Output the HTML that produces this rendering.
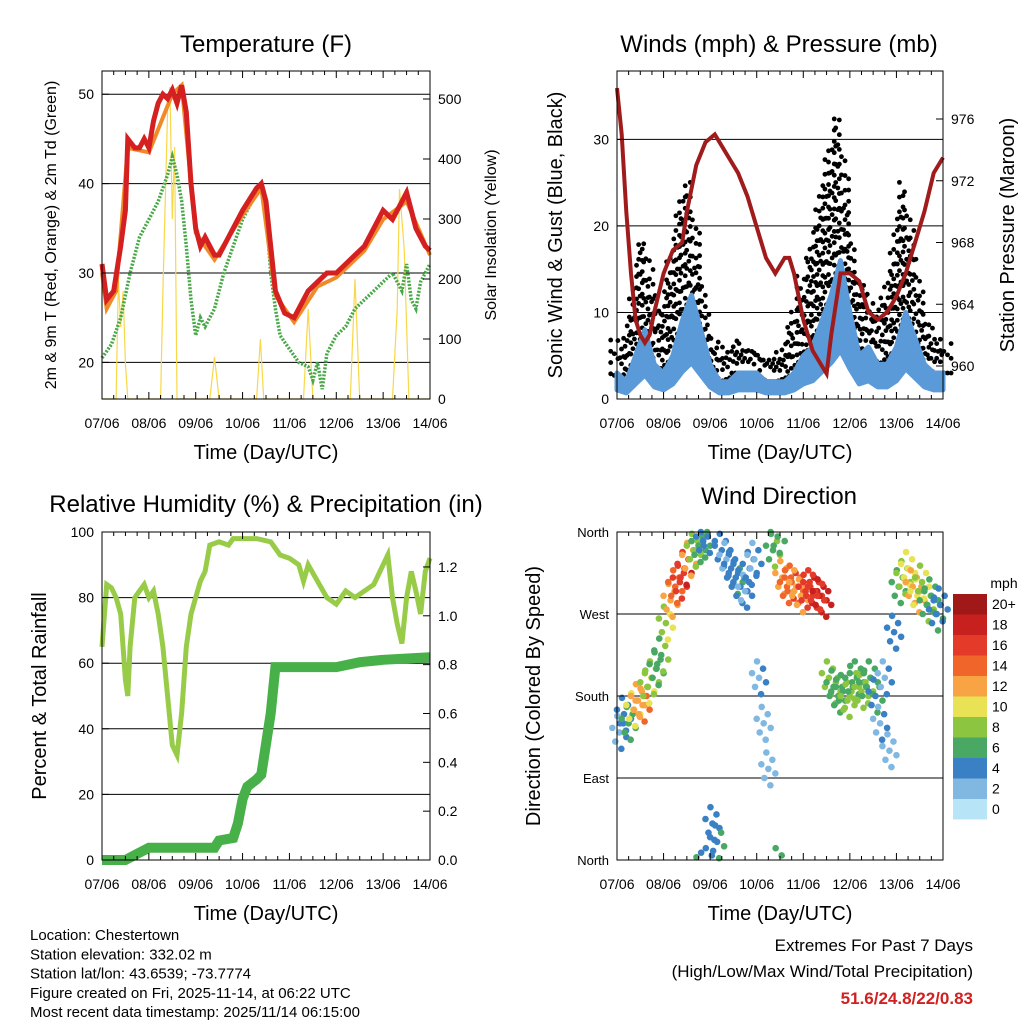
<!DOCTYPE html>
<html><head><meta charset="utf-8"><style>
body{margin:0;background:#fff}
svg{display:block;font-family:"Liberation Sans",Arial,sans-serif}
</style></head><body>
<svg id="s" width="1024" height="1024" viewBox="0 0 1024 1024" xmlns="http://www.w3.org/2000/svg"></svg>
<script>
// ---------- DATA ----------
const dayLabels=["07/06","08/06","09/06","10/06","11/06","12/06","13/06","14/06"];
const tRedDays=[0,0.1,0.25,0.4,0.5,0.55,0.7,0.8,0.9,1.0,1.1,1.2,1.3,1.4,1.5,1.6,1.7,1.8,1.9,2.0,2.1,2.2,2.3,2.4,2.5,2.7,3.0,3.3,3.4,3.5,3.6,3.7,3.9,4.1,4.3,4.4,4.6,4.8,5.0,5.2,5.4,5.6,5.8,6.0,6.2,6.4,6.5,6.6,6.7,6.9,7.0];
const tRed=[31,27,28,33,37,45,44,44,45,44,47,49,50,49.5,50.5,49,51,48,40,35,33,34,33,32,32,34,37,39.5,40,38,33,28,25.5,25,27,28,29,30,30,31,32,33,35,37,36,38,39,37,35,33,32.5];
const tOrangeDays=[0,0.1,0.3,0.55,1.0,1.5,1.7,2.0,2.4,3.0,3.4,3.7,4.1,4.6,5.0,5.6,6.0,6.5,7.0];
const tOrange=[30,26,28,44,43.5,50,51,34.5,31.5,36.5,39.5,27.5,24.5,28.5,29.5,32.5,36,38,32];
const tdDays=[0,0.2,0.4,0.6,0.8,1.0,1.2,1.4,1.5,1.6,1.7,1.8,1.9,2.0,2.1,2.2,2.4,2.6,2.8,3.0,3.3,3.4,3.5,3.6,3.7,3.8,4.0,4.2,4.4,4.5,4.6,4.7,4.8,5.0,5.2,5.4,5.6,5.8,6.0,6.2,6.4,6.5,6.6,6.7,6.8,7.0];
const tdVals=[20.5,22,25,30,34,36,38,41,43,41,38,33,27,23,25,24,26,30,33,36,39,40,37,30,26,23,21.5,20,19.5,18,20,17,21,23,24,26,27,28,29,30,28,31,27,26,29,31];
const solarDays=[0,0.3,0.35,0.4,0.45,0.5,0.55,1.25,1.3,1.4,1.45,1.5,1.55,1.6,2.3,2.4,2.5,3.3,3.38,3.45,4.3,4.4,4.5,5.3,5.4,5.5,6.2,6.3,6.35,6.45,6.55,7.0];
const solarVals=[0,0,200,120,180,60,0,0,180,480,520,300,420,0,0,70,0,0,100,0,0,150,0,0,200,0,0,150,350,250,0,0];
const windDays=[0,0.2,0.4,0.6,0.8,1.0,1.2,1.4,1.6,1.8,2.0,2.2,2.4,2.6,2.8,3.0,3.2,3.4,3.6,3.8,4.0,4.2,4.4,4.6,4.8,5.0,5.2,5.4,5.6,5.8,6.0,6.2,6.4,6.6,6.8,7.0];
const windVals=[3,2,5,8,4,3,5,9,12,8,4,2,2,3,3,3,2,2,2,3,5,6,9,12,16,10,5,6,4,4,6,10,7,4,3,3];
const gustVals=[8,6,12,20,14,10,16,22,26,18,10,6,6,7,6,6,5,5,6,9,14,18,22,28,34,24,14,14,10,12,17,26,20,12,8,7];
const presDays=[0,0.1,0.2,0.3,0.4,0.5,0.6,0.7,0.8,1.0,1.2,1.4,1.5,1.7,1.9,2.1,2.2,2.4,2.6,2.8,3.0,3.2,3.4,3.6,3.7,3.8,4.0,4.2,4.4,4.5,4.6,4.8,5.0,5.2,5.4,5.6,5.8,6.0,6.2,6.4,6.6,6.8,7.0];
const presVals=[978,975,970,966,963,962,961.5,962,963.5,966,967.5,968,970,973,974.5,975,974.5,973.5,972.5,971,969,967,966,967,967,966,963,961,960,959.5,962,966,966,965.5,963.5,963,963.5,964.5,966,968,970,972.5,973.5];
const rhDays=[0,0.1,0.2,0.3,0.4,0.5,0.55,0.6,0.7,0.8,0.9,1.0,1.1,1.2,1.3,1.4,1.5,1.6,1.7,1.8,1.9,2.0,2.1,2.2,2.3,2.5,2.7,2.8,3.0,3.3,3.6,3.8,4.0,4.2,4.3,4.4,4.6,4.8,5.0,5.2,5.4,5.6,5.8,6.0,6.1,6.2,6.3,6.4,6.5,6.6,6.7,6.8,6.9,7.0];
const rhVals=[65,84,83,80,75,55,50,65,80,82,84,80,82,75,65,50,35,32,45,65,75,80,85,88,96,97,96,98,98,98,97,93,92,90,85,90,85,80,78,82,80,82,84,90,93,80,72,66,80,88,82,75,88,92];
const rainDays=[0,0.5,0.7,1.0,2.4,2.5,2.8,2.9,3.0,3.1,3.3,3.4,3.6,3.7,4.5,5.0,5.5,6.0,7.0];
const rainVals=[0,0,0.02,0.05,0.05,0.08,0.09,0.15,0.25,0.3,0.33,0.35,0.6,0.79,0.79,0.79,0.81,0.82,0.83];
const dirDays=[0.05,0.15,0.25,0.35,0.45,0.55,0.65,0.75,0.85,0.95,1.05,1.15,1.25,1.35,1.45,1.55,1.65,1.75,1.85,1.95,2.05,2.15,2.25,2.35,2.45,2.55,2.65,2.75,2.85,2.95,3.05,3.15,3.25,3.35,3.45,3.55,3.65,3.75,3.85,3.95,4.05,4.15,4.25,4.35,4.45,4.55,4.65,4.75,4.85,4.95,5.05,5.15,5.25,5.35,5.45,5.55,5.65,5.75,5.85,5.95,6.05,6.15,6.25,6.35,6.45,6.55,6.65,6.75,6.85,6.95];
const dirVals=[140,160,150,165,175,170,190,200,210,225,260,285,300,305,320,330,340,345,350,355,40,20,340,330,320,310,300,295,320,330,200,150,100,340,355,310,300,305,300,290,295,300,295,290,285,200,190,180,185,175,195,200,185,190,200,180,150,200,120,250,300,310,320,300,290,305,280,290,270,280];
const dirSpeed=[3,4,6,10,12,13,9,8,6,7,9,12,14,16,17,12,8,6,5,4,4,5,4,3,4,5,4,3,4,3,3,2,2,7,6,12,14,15,13,12,16,17,16,18,17,8,7,6,7,8,7,6,8,7,6,5,3,3,2,4,6,8,10,12,11,9,7,6,5,4];
const cbLabels=["20+","18","16","14","12","10","8","6","4","2","0"];
const cbColors=["#a01818","#c8201e","#e43a2a","#f0662a","#f8a444","#e8e254","#8cc640","#48a864","#3a80c4","#80b8e2","#b8e4f8"];

// ---------- HELPERS ----------
const S=document.getElementById('s'),NS="http://www.w3.org/2000/svg";
function el(t,a,p){const e=document.createElementNS(NS,t);for(const k in a)e.setAttribute(k,a[k]);(p||S).appendChild(e);return e;}
function txt(x,y,s,size,anchor,extra){const e=el('text',Object.assign({x:x,y:y,'font-size':size,'text-anchor':anchor||'middle',fill:'#000'},extra||{}));e.textContent=s;return e;}
function path(pts){return pts.map((p,i)=>(i?'L':'M')+p[0].toFixed(1)+','+p[1].toFixed(1)).join('');}
function panel(x0,x1,y0,y1,ylo,yhi){return {x:d=>x0+(x1-x0)*d/7,y:v=>y1-(y1-y0)*(v-ylo)/(yhi-ylo),x0,x1,y0,y1};}
function frame(P,name){
  const g=el('g',{});
  
  
  el('rect',{x:P.x0,y:P.y0,width:P.x1-P.x0,height:P.y1-P.y0,fill:'none',stroke:'#000','stroke-width':1},g);
  for(let d=0;d<=7;d++){const x=P.x(d);el('line',{x1:x,x2:x,y1:P.y1,y2:P.y1-7,stroke:'#000'},g);el('line',{x1:x,x2:x,y1:P.y0,y2:P.y0+7,stroke:'#000'},g);
    const t=txt(x,P.y1+29,dayLabels[d],14);}
  for(let d=0;d<7;d+=0.25){if(d%1===0)continue;const x=P.x(d);el('line',{x1:x,x2:x,y1:P.y1,y2:P.y1-4,stroke:'#000'},g);el('line',{x1:x,x2:x,y1:P.y0,y2:P.y0+4,stroke:'#000'},g);}
  const t=txt((P.x0+P.x1)/2,P.y1+60,"Time (Day/UTC)",20);
}
function grid(P,vals,fy){vals.forEach(v=>{const y=fy(v);el('line',{x1:P.x0,x2:P.x1,y1:y,y2:y,stroke:'#000','stroke-width':1});});}
function yticks(P,vals,fy,labels,side,size){vals.forEach((v,i)=>{const y=fy(v);
  if(side==='l'){el('line',{x1:P.x0,x2:P.x0+7,y1:y,y2:y,stroke:'#000'});const t=txt(P.x0-8,y+5,labels[i],size||14,'end');}
  else{el('line',{x1:P.x1,x2:P.x1-7,y1:y,y2:y,stroke:'#000'});const t=txt(P.x1+8,y+5,labels[i],size||14,'start');}});}
function vtitle(x,y,s,size,name){const t=txt(x,y,s,size,'middle',{transform:`rotate(-90 ${x} ${y})`});}
function title(x,y,s,name){const t=txt(x,y,s,24);}

// ---------- PANEL 1: TEMPERATURE ----------
const P1=panel(102,430,71,399,15.9,52.6);
const sy1=v=>399-300*v/500;
grid(P1,[20,30,40,50],P1.y);
let e;
e=el('path',{d:path(solarDays.map((d,i)=>[P1.x(d),sy1(solarVals[i])])),fill:'none',stroke:'#f8d848','stroke-width':1.2});

e=el('path',{d:path(tdDays.map((d,i)=>[P1.x(d),P1.y(tdVals[i])])),fill:'none',stroke:'#48a848','stroke-width':3.5,'stroke-dasharray':'2 1.5'});

e=el('path',{d:path(tOrangeDays.map((d,i)=>[P1.x(d),P1.y(tOrange[i])])),fill:'none',stroke:'#f08a28','stroke-width':4});

e=el('path',{d:path(tRedDays.map((d,i)=>[P1.x(d),P1.y(tRed[i])])),fill:'none',stroke:'#d42020','stroke-width':5});

frame(P1,'temperature');
yticks(P1,[20,30,40,50],P1.y,["20","30","40","50"],'l');
yticks(P1,[0,100,200,300,400,500],sy1,["0","100","200","300","400","500"],'r');
title(266,52,"Temperature (F)",'temperature-title');
vtitle(56,235,"2m & 9m T (Red, Orange) & 2m Td (Green)",16,'temperature-y-axis-title');
vtitle(496,235,"Solar Insolation (Yellow)",16,'solar-y-axis-title');

// ---------- PANEL 2: WINDS ----------
const P2=panel(617,943,71,399,0,37.9);
const py2=v=>366-(v-960)*247/16;
grid(P2,[10,20,30],P2.y);
const subX=[-3.5,-1.5,0.5,2.5,4.5];
windDays.forEach((d,i)=>{
  const next=i<windDays.length-1?i+1:i;
  subX.forEach((o,k)=>{
    const f=(k+0.5)/subX.length;
    const g=gustVals[i]+(gustVals[next]-gustVals[i])*f*0.9;
    const w=windVals[i]+(windVals[next]-windVals[i])*f*0.9;
    for(let v=w;v<=g;v+=1.3+((k*7+i*3)%4)*0.4){
      const c=el('circle',{cx:P2.x(d)+o*1.8,cy:P2.y(v),r:2.4,fill:'#000'});
      
    }
  });
});
const windPts=windDays.map((d,i)=>[P2.x(d),P2.y(windVals[i])]);
const windLow=windDays.map((d,i)=>[P2.x(d),P2.y(windVals[i]*0.35)]).reverse();
e=el('path',{d:path(windPts)+path(windLow).replace('M','L')+'Z',fill:'#5a9ad8',stroke:'#5a9ad8','stroke-width':5,'stroke-linejoin':'round'});

e=el('path',{d:path(presDays.map((d,i)=>[P2.x(d),py2(presVals[i])])),fill:'none',stroke:'#a01c1c','stroke-width':4});

frame(P2,'winds');
yticks(P2,[0,10,20,30],P2.y,["0","10","20","30"],'l');
yticks(P2,[960,964,968,972,976],py2,["960","964","968","972","976"],'r');
title(779,52,"Winds (mph) & Pressure (mb)",'winds-title');
vtitle(562,235,"Sonic Wind & Gust (Blue, Black)",20,'winds-y-axis-title');
vtitle(1014,235,"Station Pressure (Maroon)",20,'pressure-y-axis-title');

// ---------- PANEL 3: RH ----------
const P3=panel(102,430,532,860,0,100);
const ry3=v=>860-v*244.2;
grid(P3,[20,40,60,80],P3.y);
e=el('path',{d:path(rhDays.map((d,i)=>[P3.x(d),P3.y(rhVals[i])])),fill:'none',stroke:'#98cc48','stroke-width':5});

e=el('path',{d:path(rainDays.map((d,i)=>[P3.x(d),ry3(rainVals[i])])),fill:'none',stroke:'#48b048','stroke-width':10});

frame(P3,'humidity');
yticks(P3,[0,20,40,60,80,100],P3.y,["0","20","40","60","80","100"],'l');
yticks(P3,[0,0.2,0.4,0.6,0.8,1.0,1.2],ry3,["0.0","0.2","0.4","0.6","0.8","1.0","1.2"],'r');
title(266,512,"Relative Humidity (%) & Precipitation (in)",'humidity-title');
vtitle(46,696,"Percent & Total Rainfall",20,'humidity-y-axis-title');

// ---------- PANEL 4: WIND DIRECTION ----------
const P4=panel(617,943,532,860,0,360);
grid(P4,[90,180,270],P4.y);
function speedColor(s){let i=10-Math.min(10,Math.floor(s/2));return cbColors[i];}
const offs=[[0,0],[4,10],[-4,-10],[7,-5],[-7,5],[2,-18],[-2,18]];
dirDays.forEach((d,i)=>{offs.forEach(o=>{let v=dirVals[i]+o[1];if(v>360)v-=360;if(v<0)v+=360;
  const c=el('circle',{cx:P4.x(d)+o[0],cy:P4.y(v),r:3.3,fill:speedColor(dirSpeed[i]+(o[0]>0?1:0))});
  });});
frame(P4,'direction');
yticks(P4,[0,90,180,270,360],P4.y,["North","East","South","West","North"],'l',13);
title(779,504,"Wind Direction",'direction-title');
vtitle(540,696,"Direction (Colored By Speed)",20,'direction-y-axis-title');
// colorbar
const cb=el('g',{});


txt(1004,588,"mph",14,'middle',{});
cbLabels.forEach((l,i)=>{const y=594+i*20.5;el('rect',{x:953,y:y,width:34,height:20.5,fill:cbColors[i]},cb);
  const t=txt(992,y+15,l,14,'start');});

// ---------- FOOTER ----------
["Location: Chestertown","Station elevation: 332.02 m","Station lat/lon: 43.6539; -73.7774","Figure created on Fri, 2025-11-14, at 06:22 UTC","Most recent data timestamp: 2025/11/14 06:15:00"].forEach((s,i)=>{
  const t=txt(30,940+i*19.3,s,15,'start');});
e=txt(973,951,"Extremes For Past 7 Days",17,'end');
e=txt(973,977,"(High/Low/Max Wind/Total Precipitation)",17,'end');
e=txt(973,1004,"51.6/24.8/22/0.83",17,'end',{fill:'#d02020','font-weight':'bold'});
</script>
</body></html>
